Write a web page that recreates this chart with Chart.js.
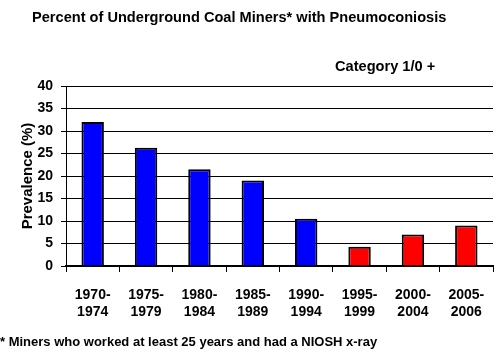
<!DOCTYPE html>
<html>
<head>
<meta charset="utf-8">
<script src="https://cdn.jsdelivr.net/npm/chart.js@4.4.1/dist/chart.umd.min.js"></script>
<style>
  html, body { margin: 0; padding: 0; background: #fff; }
  #wrap { position: relative; width: 504px; height: 364px; overflow: hidden;
    font-family: "Liberation Sans", Arial, sans-serif; font-weight: bold; color: #000; }
  #wrap canvas { position: absolute; left: 0; top: 0; }
  .txt { position: absolute; white-space: nowrap; }
  #title { left: 32px; top: 9px; font-size: 14.6px; }
  #sub { left: 335px; top: 58px; font-size: 14.6px; }
  #foot { left: 0; top: 334px; font-size: 13px; }
</style>
</head>
<body>
<div id="wrap">
  <canvas id="c" width="504" height="364"></canvas>
  <div class="txt" id="title">Percent of Underground Coal Miners* with Pneumoconiosis</div>
  <div class="txt" id="sub">Category 1/0 +</div>
  <div class="txt" id="foot">* Miners who worked at least 25 years and had a NIOSH x-ray</div>
</div>
<script>
  // periods and prevalence
  var periods = [["1970-", "1974"], ["1975-", "1979"], ["1980-", "1984"], ["1985-", "1989"],
    ["1990-", "1994"], ["1995-", "1999"], ["2000-", "2004"], ["2005-", "2006"]];
  var prevalence = [32.0, 26.3, 21.5, 19.0, 10.5, 4.3, 7.0, 9.0];
  var barColors = ["#0000ff", "#0000ff", "#0000ff", "#0000ff", "#0000ff", "#ff0000", "#ff0000", "#ff0000"];
  var yTicks = [0, 5, 10, 15, 20, 25, 30, 35, 40];

  var FONT = "'Liberation Sans', Arial, sans-serif";

  new Chart(document.getElementById("c"), {
    type: "bar",
    data: {
      labels: periods,
      datasets: [{
        data: prevalence,
        backgroundColor: barColors,
        borderColor: "#000",
        borderWidth: 2,
        borderSkipped: "bottom",
        barPercentage: 0.42,
        categoryPercentage: 1
      }]
    },
    options: {
      responsive: false, animation: false, devicePixelRatio: 1,
      layout: { padding: { top: 86, right: 11, left: 0, bottom: 0 } },
      plugins: { legend: { display: false }, tooltip: { enabled: false } },
      scales: {
        x: {
          afterFit: function (s) { s.height = 98; },
          grid: { drawOnChartArea: false, drawTicks: true, tickLength: 6, color: "#000", lineWidth: 1, offset: true },
          border: { color: "#000", width: 2 },
          ticks: { color: "#000", padding: 14, maxRotation: 0, autoSkip: false,
            font: { family: FONT, size: 14, weight: "bold", lineHeight: 1.25 } }
        },
        y: {
          min: 0, max: 40,
          afterFit: function (s) { s.width = 66; },
          afterBuildTicks: function (s) { s.ticks = yTicks.map(function (v) { return { value: v }; }); },
          grid: { color: "#000", lineWidth: 1, tickLength: 5 },
          border: { color: "#000", width: 1 },
          ticks: { color: "#000", padding: 8, font: { family: FONT, size: 14, weight: "bold" } },
          title: { display: true, text: "Prevalence (%)", color: "#000", padding: { top: 19, bottom: 2 },
            font: { family: FONT, size: 15, weight: "bold" } }
        }
      }
    }
  });
</script>
</body>
</html>
